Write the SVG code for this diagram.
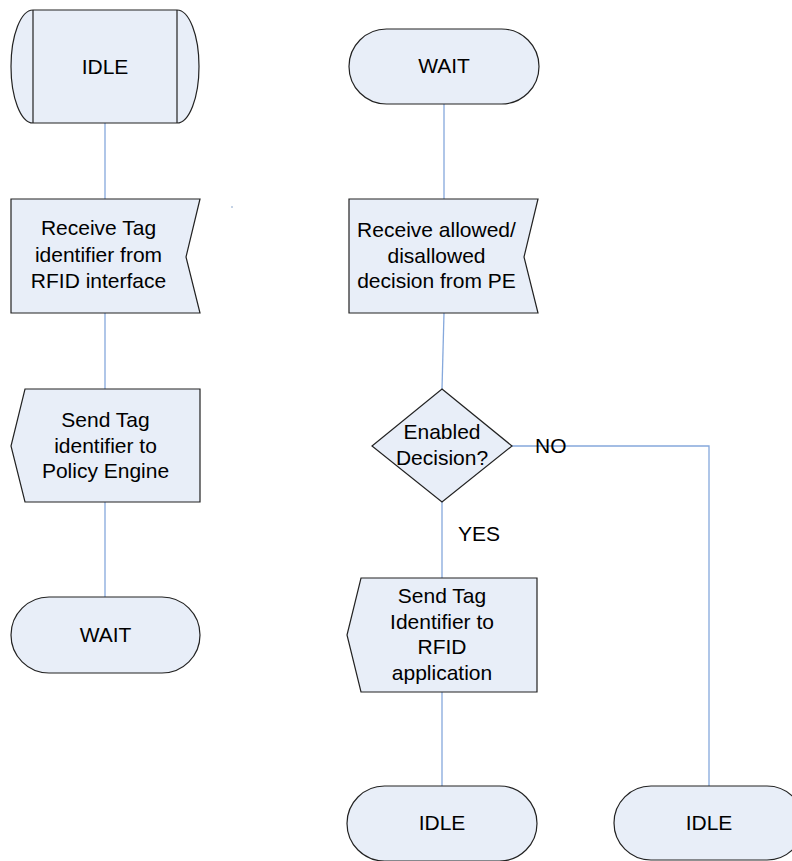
<svg xmlns="http://www.w3.org/2000/svg" width="792" height="861" viewBox="0 0 792 861">
<style>
.s{fill:#E8EEF8;stroke:#222;stroke-width:1.2}
.c{fill:none;stroke:#85A8DC;stroke-width:1.3}
.t{font-family:"Liberation Sans",Arial,sans-serif;font-size:21px;fill:#000;text-anchor:middle}
.l{font-family:"Liberation Sans",Arial,sans-serif;font-size:21px;fill:#000}
</style>
<rect width="792" height="861" fill="#fff"/>
<g id="connectors">
<line class="c" x1="105" y1="123" x2="105" y2="199"/>
<line class="c" x1="105" y1="313" x2="105" y2="389"/>
<line class="c" x1="105" y1="502" x2="105" y2="597"/>
<line class="c" x1="444" y1="104" x2="444" y2="199"/>
<line class="c" x1="444" y1="313" x2="442" y2="389"/>
<line class="c" x1="442" y1="502" x2="442" y2="578"/>
<line class="c" x1="442" y1="692" x2="442" y2="786"/>
<polyline class="c" points="512,446 709,446 709,786"/>
<line x1="231" y1="207" x2="233" y2="207" stroke="#8AA6CC" stroke-width="1"/>
</g>
<g id="idle1">
<path class="s" d="M33,10 L177,10 A22,56.5 0 0 1 177,123 L33,123 A22,56.5 0 0 1 33,10 Z"/>
<line x1="33" y1="10" x2="33" y2="123" stroke="#222" stroke-width="1.2"/>
<line x1="177" y1="10" x2="177" y2="123" stroke="#222" stroke-width="1.2"/>
<text class="t" x="105" y="74">IDLE</text>
</g>
<g id="recv1">
<polygon class="s" points="11,199 200,199 186,257 200,313 11,313"/>
<text class="t" x="98.5" y="235">Receive Tag</text>
<text class="t" x="98.5" y="262">identifier from</text>
<text class="t" x="98.5" y="288">RFID interface</text>
</g>
<g id="send1">
<polygon class="s" points="25,389 200,389 200,502 25,502 11,446"/>
<text class="t" x="105.5" y="427">Send Tag</text>
<text class="t" x="105.5" y="453">identifier to</text>
<text class="t" x="105.5" y="478">Policy Engine</text>
</g>
<g id="wait1">
<rect class="s" x="11" y="597" width="189" height="76" rx="38" ry="38"/>
<text class="t" x="105.5" y="642">WAIT</text>
</g>
<g id="wait2">
<rect class="s" x="349" y="29" width="190" height="75" rx="37.5" ry="37.5"/>
<text class="t" x="444" y="73">WAIT</text>
</g>
<g id="recv2">
<polygon class="s" points="349,199 538,199 524,257 538,313 349,313"/>
<text class="t" x="436.5" y="237">Receive allowed/</text>
<text class="t" x="436.5" y="263">disallowed</text>
<text class="t" x="436.5" y="288">decision from PE</text>
</g>
<g id="decision">
<polygon class="s" points="442,389 512,446 442,502 372,446"/>
<text class="t" x="442" y="439">Enabled</text>
<text class="t" x="442" y="465">Decision?</text>
</g>
<g id="labels">
<text class="l" x="535" y="453">NO</text>
<text class="l" x="458" y="541">YES</text>
</g>
<g id="send2">
<polygon class="s" points="361,578 537,578 537,692 361,692 347,635"/>
<text class="t" x="442" y="603">Send Tag</text>
<text class="t" x="442" y="629">Identifier to</text>
<text class="t" x="442" y="654">RFID</text>
<text class="t" x="442" y="680">application</text>
</g>
<g id="idle2">
<rect class="s" x="347" y="786" width="190" height="75" rx="37.5" ry="37.5"/>
<text class="t" x="442" y="830">IDLE</text>
</g>
<g id="idle3">
<rect class="s" x="614" y="786" width="190" height="74" rx="37" ry="37"/>
<text class="t" x="709" y="830">IDLE</text>
</g>
</svg>
